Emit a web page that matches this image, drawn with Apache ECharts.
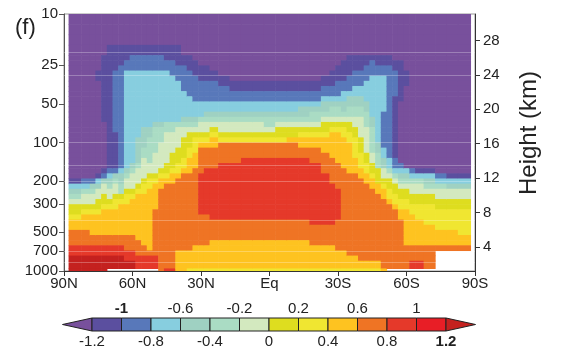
<!DOCTYPE html>
<html><head><meta charset="utf-8">
<script src="https://cdn.jsdelivr.net/npm/echarts@6/dist/echarts.min.js"></script>
<style>html,body{margin:0;padding:0;background:#fff}#c{width:563px;height:358px}</style>
</head><body><div id="c"></div>
<script>
// ---------- data ----------
// latitude columns (cell centres, 90N -> 90S) and the latitudes the plotted data cover
const latCenters = [85,80,77.5,75,72.5,70,67.5,65,62.5,60,57.5,55,52.5,50,47.5,45,42.5,40,37.5,35,32.5,30,27.5,25,20,15,10,5,0,-5,-10,-15,-20,-25,-27.5,-30,-32.5,-35,-37.5,-40,-42.5,-45,-47.5,-50,-52.5,-55,-57.5,-60,-62.5,-65,-70,-75,-80,-85];
const latCoverage = [88, -88];
// pressure layer boundaries (hPa), top -> bottom
const pressureEdges = [10,12.02,14.45,17.38,20.89,22.91,25.12,27.54,30.2,33.11,36.31,39.81,43.65,47.86,52.48,57.54,63.1,69.18,75.86,83.18,91.2,100,109.6,120.2,131.8,144.5,158.5,173.8,190.5,208.9,229.1,251.2,275.4,302,331.1,363.1,398.1,436.5,478.6,524.8,575.4,631,691.8,758.6,831.8,955,1000];
// temperature change, one vertical profile per latitude column (values top -> bottom); null = no data
const profiles = [
[-1.3,-1.3,-1.3,-1.3,-1.3,-1.3,-1.3,-1.3,-1.3,-1.3, -1.3,-1.3,-1.3,-1.3,-1.3,-1.3,-1.3,-1.3,-1.3,-1.3, -1.3,-1.3,-1.3,-1.3,-1.3,-1.3,-1.3,-1.3,-1.1,-0.7, -0.5,-0.3,-0.1,0.1,0.1,0.3,0.5,0.5,0.7,0.7, 0.7,0.9,0.9,1.3,1.3,1.3],
[-1.3,-1.3,-1.3,-1.3,-1.3,-1.3,-1.3,-1.3,-1.3,-1.3, -1.3,-1.3,-1.3,-1.3,-1.3,-1.3,-1.3,-1.3,-1.3,-1.3, -1.3,-1.3,-1.3,-1.3,-1.3,-1.3,-1.3,-1.3,-0.9,-0.7, -0.3,-0.1,-0.1,0.1,0.3,0.5,0.5,0.5,0.7,0.7, 0.7,0.9,0.9,1.3,1.3,1.3],
[-1.3,-1.3,-1.3,-1.3,-1.3,-1.3,-1.3,-1.3,-1.3,-1.3, -1.3,-1.3,-1.3,-1.3,-1.3,-1.3,-1.3,-1.3,-1.3,-1.3, -1.3,-1.3,-1.3,-1.3,-1.3,-1.3,-1.3,-1.3,-0.9,-0.5, -0.3,-0.1,-0.1,0.1,0.3,0.5,0.5,0.5,0.5,0.7, 0.7,0.9,0.9,1.3,1.3,1.3],
[-1.3,-1.3,-1.3,-1.3,-1.3,-1.3,-1.3,-1.1,-1.1,-1.3, -1.3,-1.3,-1.3,-1.3,-1.3,-1.3,-1.3,-1.3,-1.3,-1.3, -1.3,-1.3,-1.3,-1.3,-1.3,-1.3,-1.3,-1.1,-0.7,-0.5, -0.1,-0.1,0.1,0.1,0.3,0.5,0.5,0.5,0.5,0.7, 0.7,0.9,0.9,1.3,1.3,1.3],
[-1.3,-1.3,-1.3,-1.3,-1.1,-1.1,-1.1,-1.1,-1.1,-1.1, -1.1,-1.1,-1.1,-1.1,-1.1,-1.1,-1.1,-1.3,-1.3,-1.3, -1.3,-1.3,-1.3,-1.3,-1.3,-1.3,-1.1,-0.9,-0.5,-0.1, -0.1,0.1,0.1,0.3,0.5,0.5,0.5,0.5,0.5,0.7, 0.7,0.9,0.9,1.3,1.3,1.3],
[-1.3,-1.3,-1.3,-1.1,-1.1,-1.1,-1.1,-1.1,-1.1,-1.1, -1.1,-1.1,-1.1,-1.1,-1.1,-1.1,-1.1,-1.1,-1.1,-1.1, -1.1,-1.1,-1.1,-1.1,-1.1,-1.1,-0.9,-0.7,-0.5,-0.3, -0.1,-0.1,0.1,0.3,0.5,0.5,0.5,0.5,0.5,0.7, 0.7,0.9,0.9,1.3,1.3,null],
[-1.3,-1.3,-1.3,-1.1,-1.1,-1.1,-1.1,-0.9,-0.9,-0.9, -0.9,-0.9,-0.9,-0.9,-0.9,-0.9,-0.9,-0.9,-0.9,-1.1, -1.1,-1.1,-1.1,-1.1,-1.1,-1.1,-0.9,-0.5,-0.3,-0.1, -0.1,0.1,0.3,0.3,0.5,0.5,0.5,0.5,0.5,0.7, 0.7,0.9,0.9,1.3,1.3,null],
[-1.3,-1.3,-1.3,-1.1,-1.1,-1.1,-0.9,-0.9,-0.9,-0.9, -0.9,-0.9,-0.9,-0.9,-0.9,-0.9,-0.9,-0.9,-0.9,-0.9, -0.9,-0.9,-0.9,-0.9,-0.9,-0.9,-0.7,-0.5,-0.5,-0.3, -0.3,0.1,0.3,0.5,0.5,0.5,0.5,0.5,0.5,0.7, 0.7,0.9,0.9,1.3,1.3,null],
[-1.3,-1.3,-1.3,-1.1,-1.1,-0.9,-0.9,-0.7,-0.7,-0.7, -0.7,-0.7,-0.7,-0.7,-0.7,-0.7,-0.7,-0.7,-0.7,-0.7, -0.7,-0.7,-0.7,-0.7,-0.7,-0.7,-0.5,-0.3,-0.1,-0.1, 0.1,0.3,0.3,0.5,0.5,0.5,0.5,0.5,0.5,0.7, 0.7,0.7,0.9,0.9,1.3,null],
[-1.3,-1.3,-1.3,-1.1,-0.9,-0.9,-0.9,-0.7,-0.7,-0.7, -0.7,-0.7,-0.7,-0.7,-0.7,-0.7,-0.7,-0.7,-0.7,-0.7, -0.7,-0.7,-0.7,-0.7,-0.7,-0.5,-0.3,-0.1,-0.1,-0.1, 0.1,0.3,0.5,0.5,0.5,0.5,0.5,0.5,0.5,0.7, 0.7,0.7,0.9,0.9,1.3,null],
[-1.3,-1.3,-1.3,-1.1,-0.9,-0.9,-0.9,-0.7,-0.7,-0.7, -0.7,-0.7,-0.7,-0.7,-0.7,-0.7,-0.7,-0.7,-0.7,-0.7, -0.5,-0.5,-0.5,-0.5,-0.5,-0.3,-0.1,-0.1,-0.1,0.1, 0.3,0.5,0.5,0.5,0.5,0.5,0.5,0.5,0.5,0.5, 0.7,0.7,0.7,0.9,0.9,null],
[-1.3,-1.3,-1.3,-1.1,-0.9,-0.9,-0.9,-0.7,-0.7,-0.7, -0.7,-0.7,-0.7,-0.7,-0.7,-0.7,-0.7,-0.7,-0.5,-0.5, -0.5,-0.5,-0.3,-0.3,-0.1,-0.1,-0.1,-0.1,0.1,0.3, 0.3,0.5,0.5,0.5,0.5,0.5,0.5,0.5,0.5,0.5, 0.5,0.7,0.7,0.9,0.9,null],
[-1.3,-1.3,-1.3,-1.1,-0.9,-0.9,-0.9,-0.7,-0.7,-0.7, -0.7,-0.7,-0.7,-0.7,-0.7,-0.7,-0.7,-0.7,-0.5,-0.5, -0.3,-0.3,-0.3,-0.3,-0.3,-0.1,-0.1,0.1,0.3,0.3, 0.5,0.5,0.5,0.5,0.5,0.5,0.5,0.5,0.5,0.5, 0.5,0.5,0.7,0.9,0.9,null],
[-1.3,-1.3,-1.3,-1.1,-0.9,-0.9,-0.9,-0.7,-0.7,-0.7, -0.7,-0.7,-0.7,-0.7,-0.7,-0.7,-0.7,-0.5,-0.3,-0.3, -0.3,-0.3,-0.3,-0.1,-0.1,-0.1,-0.1,0.1,0.3,0.5, 0.5,0.5,0.5,0.5,0.7,0.7,0.7,0.7,0.7,0.7, 0.7,0.7,0.7,0.9,0.9,null],
[-1.3,-1.3,-1.3,-1.1,-0.9,-0.9,-0.9,-0.7,-0.7,-0.7, -0.7,-0.7,-0.7,-0.7,-0.7,-0.7,-0.7,-0.5,-0.3,-0.3, -0.3,-0.1,-0.1,-0.1,-0.1,-0.1,0.1,0.3,0.5,0.5, 0.7,0.7,0.7,0.7,0.7,0.7,0.7,0.7,0.7,0.7, 0.7,0.7,0.7,0.7,0.7,0.7],
[-1.3,-1.3,-1.3,-1.1,-1.1,-0.9,-0.9,-0.7,-0.7,-0.7, -0.7,-0.7,-0.7,-0.7,-0.7,-0.7,-0.7,-0.3,-0.3,-0.1, -0.1,-0.1,-0.1,-0.1,-0.1,0.1,0.1,0.3,0.5,0.7, 0.7,0.7,0.7,0.7,0.7,0.7,0.7,0.7,0.7,0.7, 0.7,0.7,0.7,0.7,0.7,0.9],
[-1.3,-1.3,-1.3,-1.1,-1.1,-0.9,-0.9,-0.9,-0.7,-0.7, -0.7,-0.7,-0.7,-0.7,-0.7,-0.7,-0.7,-0.3,-0.3,-0.1, -0.1,-0.1,-0.1,0.1,0.1,0.1,0.3,0.5,0.5,0.7, 0.7,0.7,0.7,0.7,0.7,0.7,0.7,0.7,0.7,0.7, 0.7,0.7,0.7,0.7,0.7,0.9],
[-1.3,-1.3,-1.3,-1.1,-1.1,-1.1,-0.9,-0.9,-0.9,-0.7, -0.7,-0.7,-0.7,-0.7,-0.7,-0.7,-0.7,-0.3,-0.1,-0.1, -0.1,-0.1,0.1,0.1,0.1,0.3,0.3,0.5,0.7,0.7, 0.7,0.7,0.7,0.7,0.7,0.7,0.7,0.7,0.7,0.7, 0.7,0.7,0.5,0.5,0.5,0.5],
[-1.3,-1.3,-1.3,-1.3,-1.1,-1.1,-0.9,-0.9,-0.9,-0.9, -0.9,-0.7,-0.7,-0.7,-0.7,-0.7,-0.5,-0.3,-0.1,-0.1, 0.1,0.1,0.1,0.1,0.3,0.3,0.5,0.7,0.7,0.7, 0.7,0.7,0.7,0.7,0.7,0.7,0.7,0.7,0.7,0.7, 0.7,0.7,0.5,0.5,0.5,0.5],
[-1.3,-1.3,-1.3,-1.3,-1.1,-1.1,-1.1,-0.9,-0.9,-0.9, -0.9,-0.9,-0.7,-0.7,-0.7,-0.7,-0.5,-0.3,-0.1,0.1, 0.1,0.1,0.3,0.3,0.5,0.5,0.5,0.7,0.7,0.7, 0.7,0.7,0.7,0.7,0.7,0.7,0.7,0.7,0.7,0.7, 0.7,0.7,0.5,0.5,0.5,0.3],
[-1.3,-1.3,-1.3,-1.3,-1.3,-1.1,-1.1,-1.1,-0.9,-0.9, -0.9,-0.9,-0.9,-0.7,-0.7,-0.7,-0.5,-0.3,-0.1,0.1, 0.3,0.3,0.3,0.5,0.5,0.5,0.7,0.7,0.7,0.7, 0.7,0.7,0.7,0.7,0.7,0.7,0.7,0.7,0.7,0.7, 0.7,0.5,0.5,0.5,0.5,0.3],
[-1.3,-1.3,-1.3,-1.3,-1.3,-1.3,-1.1,-1.1,-1.1,-0.9, -0.9,-0.9,-0.9,-0.7,-0.7,-0.7,-0.3,-0.1,-0.1,0.1, 0.3,0.5,0.7,0.7,0.7,0.7,0.7,0.9,0.9,0.9, 0.9,0.9,0.9,0.9,0.9,0.7,0.7,0.7,0.7,0.7, 0.7,0.5,0.5,0.5,0.5,0.3],
[-1.3,-1.3,-1.3,-1.3,-1.3,-1.3,-1.1,-1.1,-1.1,-0.9, -0.9,-0.9,-0.9,-0.7,-0.7,-0.5,-0.3,-0.1,-0.1,0.1, 0.3,0.5,0.7,0.7,0.7,0.7,0.9,0.9,0.9,0.9, 0.9,0.9,0.9,0.9,0.9,0.7,0.7,0.7,0.7,0.7, 0.7,0.5,0.5,0.5,0.5,0.3],
[-1.3,-1.3,-1.3,-1.3,-1.3,-1.3,-1.3,-1.1,-1.1,-0.9, -0.9,-0.9,-0.9,-0.7,-0.7,-0.5,-0.3,-0.1,0.1,0.3, 0.5,0.5,0.7,0.7,0.7,0.7,0.9,0.9,0.9,0.9, 0.9,0.9,0.9,0.9,0.9,0.9,0.7,0.7,0.7,0.7, 0.5,0.5,0.5,0.5,0.5,0.3],
[-1.3,-1.3,-1.3,-1.3,-1.3,-1.3,-1.3,-1.3,-1.1,-1.1, -0.9,-0.9,-0.9,-0.7,-0.7,-0.5,-0.3,-0.1,-0.1,0.1, 0.3,0.7,0.7,0.7,0.7,0.9,0.9,0.9,0.9,0.9, 0.9,0.9,0.9,0.9,0.9,0.9,0.7,0.7,0.7,0.7, 0.5,0.5,0.5,0.5,0.5,0.3],
[-1.3,-1.3,-1.3,-1.3,-1.3,-1.3,-1.3,-1.3,-1.3,-1.1, -1.1,-0.9,-0.9,-0.7,-0.7,-0.5,-0.3,-0.1,-0.1,0.1, 0.3,0.7,0.7,0.7,0.7,0.9,0.9,0.9,0.9,0.9, 0.9,0.9,0.9,0.9,0.9,0.9,0.7,0.7,0.7,0.7, 0.5,0.5,0.5,0.5,0.5,0.3],
[-1.3,-1.3,-1.3,-1.3,-1.3,-1.3,-1.3,-1.3,-1.3,-1.1, -1.1,-0.9,-0.9,-0.7,-0.7,-0.5,-0.3,-0.1,-0.1,0.1, 0.3,0.7,0.7,0.7,0.9,0.9,0.9,0.9,0.9,0.9, 0.9,0.9,0.9,0.9,0.9,0.9,0.7,0.7,0.7,0.7, 0.5,0.5,0.5,0.5,0.5,0.3],
[-1.3,-1.3,-1.3,-1.3,-1.3,-1.3,-1.3,-1.3,-1.3,-1.1, -1.1,-0.9,-0.9,-0.7,-0.7,-0.5,-0.3,-0.1,-0.1,0.1, 0.3,0.7,0.7,0.7,0.9,0.9,0.9,0.9,0.9,0.9, 0.9,0.9,0.9,0.9,0.9,0.9,0.7,0.7,0.7,0.7, 0.5,0.5,0.5,0.5,0.5,0.3],
[-1.3,-1.3,-1.3,-1.3,-1.3,-1.3,-1.3,-1.3,-1.3,-1.1, -1.1,-0.9,-0.9,-0.7,-0.7,-0.5,-0.3,-0.3,-0.1,0.1, 0.3,0.7,0.7,0.7,0.9,0.9,0.9,0.9,0.9,0.9, 0.9,0.9,0.9,0.9,0.9,0.9,0.7,0.7,0.7,0.7, 0.5,0.5,0.5,0.5,0.5,0.3],
[-1.3,-1.3,-1.3,-1.3,-1.3,-1.3,-1.3,-1.3,-1.3,-1.1, -1.1,-0.9,-0.9,-0.7,-0.7,-0.5,-0.3,-0.1,0.1,0.1, 0.3,0.7,0.7,0.7,0.9,0.9,0.9,0.9,0.9,0.9, 0.9,0.9,0.9,0.9,0.9,0.9,0.7,0.7,0.7,0.7, 0.5,0.5,0.5,0.5,0.5,0.3],
[-1.3,-1.3,-1.3,-1.3,-1.3,-1.3,-1.3,-1.3,-1.3,-1.1, -1.1,-0.9,-0.9,-0.7,-0.7,-0.5,-0.3,-0.1,0.1,0.1, 0.5,0.7,0.7,0.7,0.9,0.9,0.9,0.9,0.9,0.9, 0.9,0.9,0.9,0.9,0.9,0.9,0.7,0.7,0.7,0.7, 0.5,0.5,0.5,0.5,0.5,0.3],
[-1.3,-1.3,-1.3,-1.3,-1.3,-1.3,-1.3,-1.3,-1.3,-1.1, -1.1,-0.9,-0.9,-0.7,-0.5,-0.5,-0.3,-0.1,0.1,0.3, 0.5,0.5,0.7,0.7,0.9,0.9,0.9,0.9,0.9,0.9, 0.9,0.9,0.9,0.9,0.9,0.9,0.7,0.7,0.7,0.7, 0.5,0.5,0.5,0.5,0.5,0.3],
[-1.3,-1.3,-1.3,-1.3,-1.3,-1.3,-1.3,-1.3,-1.3,-1.1, -1.1,-0.9,-0.9,-0.7,-0.5,-0.3,-0.3,-0.1,0.1,0.3, 0.5,0.5,0.7,0.7,0.7,0.9,0.9,0.9,0.9,0.9, 0.9,0.9,0.9,0.9,0.9,0.9,0.9,0.7,0.7,0.7, 0.7,0.5,0.5,0.5,0.5,0.3],
[-1.3,-1.3,-1.3,-1.3,-1.3,-1.3,-1.3,-1.3,-1.1,-1.1, -0.9,-0.9,-0.7,-0.5,-0.5,-0.3,-0.1,0.1,0.1,0.3, 0.5,0.5,0.5,0.7,0.7,0.7,0.7,0.9,0.9,0.9, 0.9,0.9,0.9,0.9,0.9,0.9,0.9,0.7,0.7,0.7, 0.7,0.5,0.5,0.5,0.5,0.3],
[-1.3,-1.3,-1.3,-1.3,-1.3,-1.3,-1.3,-1.1,-1.1,-1.1, -0.9,-0.9,-0.7,-0.5,-0.3,-0.3,-0.1,0.1,0.3,0.5, 0.5,0.5,0.5,0.5,0.7,0.7,0.7,0.7,0.7,0.9, 0.9,0.9,0.9,0.9,0.9,0.9,0.9,0.7,0.7,0.7, 0.7,0.5,0.5,0.5,0.5,0.3],
[-1.3,-1.3,-1.3,-1.3,-1.3,-1.3,-1.1,-1.1,-1.1,-0.9, -0.9,-0.9,-0.7,-0.5,-0.3,-0.3,-0.1,0.1,0.3,0.5, 0.5,0.5,0.5,0.5,0.5,0.7,0.7,0.7,0.7,0.7, 0.9,0.9,0.9,0.9,0.9,0.9,0.7,0.7,0.7,0.7, 0.7,0.7,0.5,0.5,0.5,0.3],
[-1.3,-1.3,-1.3,-1.3,-1.3,-1.1,-1.1,-1.1,-1.1,-0.9, -0.9,-0.7,-0.7,-0.5,-0.5,-0.3,-0.1,0.1,0.3,0.3, 0.5,0.5,0.5,0.5,0.5,0.5,0.7,0.7,0.7,0.7, 0.7,0.7,0.7,0.7,0.7,0.7,0.7,0.7,0.7,0.7, 0.7,0.7,0.5,0.5,0.5,0.3],
[-1.3,-1.3,-1.3,-1.3,-1.1,-1.1,-1.1,-1.1,-0.9,-0.9, -0.9,-0.7,-0.5,-0.5,-0.3,-0.3,-0.1,0.1,0.1,0.3, 0.3,0.5,0.5,0.5,0.5,0.5,0.5,0.7,0.7,0.7, 0.7,0.7,0.7,0.7,0.7,0.7,0.7,0.7,0.7,0.7, 0.7,0.7,0.7,0.5,0.5,0.3],
[-1.3,-1.3,-1.3,-1.3,-1.1,-1.1,-1.1,-0.9,-0.9,-0.9, -0.7,-0.7,-0.5,-0.5,-0.3,-0.3,-0.1,-0.1,0.1,0.1, 0.3,0.3,0.3,0.3,0.5,0.5,0.5,0.7,0.7,0.7, 0.7,0.7,0.7,0.7,0.7,0.7,0.7,0.7,0.7,0.7, 0.7,0.7,0.7,0.5,0.5,0.3],
[-1.3,-1.3,-1.3,-1.3,-1.1,-1.1,-1.1,-0.9,-0.9,-0.9, -0.7,-0.7,-0.5,-0.5,-0.3,-0.3,-0.1,-0.1,-0.1,-0.1, 0.1,0.1,0.1,0.3,0.3,0.3,0.5,0.5,0.7,0.7, 0.7,0.7,0.7,0.7,0.7,0.7,0.7,0.7,0.7,0.7, 0.7,0.7,0.7,0.7,0.5,0.3],
[-1.3,-1.3,-1.3,-1.3,-1.1,-1.1,-0.9,-0.9,-0.9,-0.7, -0.7,-0.7,-0.7,-0.5,-0.5,-0.3,-0.3,-0.3,-0.1,-0.1, -0.1,-0.1,-0.1,0.1,0.1,0.3,0.3,0.5,0.5,0.7, 0.7,0.7,0.7,0.7,0.7,0.7,0.7,0.7,0.7,0.7, 0.7,0.7,0.7,0.7,0.5,0.3],
[-1.3,-1.3,-1.3,-1.3,-1.1,-0.9,-0.9,-0.9,-0.7,-0.7, -0.7,-0.7,-0.7,-0.7,-0.7,-0.7,-0.5,-0.5,-0.3,-0.3, -0.3,-0.3,-0.3,-0.1,-0.1,0.1,0.1,0.3,0.5,0.5, 0.7,0.7,0.7,0.7,0.7,0.7,0.7,0.7,0.7,0.7, 0.7,0.7,0.7,0.7,0.5,0.3],
[-1.3,-1.3,-1.3,-1.3,-1.1,-1.1,-0.9,-0.9,-0.7,-0.7, -0.7,-0.7,-0.7,-0.7,-0.7,-0.7,-0.7,-0.7,-0.7,-0.7, -0.7,-0.5,-0.5,-0.3,-0.3,-0.3,0.1,0.1,0.1,0.5, 0.5,0.7,0.7,0.7,0.7,0.7,0.7,0.7,0.7,0.7, 0.7,0.7,0.7,0.7,0.5,0.3],
[-1.3,-1.3,-1.3,-1.3,-1.1,-1.1,-0.9,-0.9,-0.7,-0.7, -0.7,-0.7,-0.7,-0.7,-0.7,-0.9,-0.9,-0.9,-0.9,-0.9, -0.9,-0.9,-0.7,-0.7,-0.5,-0.5,-0.1,-0.1,0.1,0.3, 0.5,0.5,0.7,0.7,0.7,0.7,0.7,0.7,0.7,0.7, 0.7,0.7,0.7,0.7,0.7,0.5],
[-1.3,-1.3,-1.3,-1.3,-1.1,-1.1,-0.9,-0.9,-0.9,-0.9, -0.9,-0.9,-0.9,-0.9,-0.9,-0.9,-0.9,-0.9,-0.9,-0.9, -0.9,-0.9,-0.9,-0.9,-0.7,-0.7,-0.3,-0.1,0.1,0.1, 0.3,0.3,0.5,0.7,0.7,0.7,0.7,0.7,0.7,0.7, 0.7,0.7,0.7,0.7,0.7,null],
[-1.3,-1.3,-1.3,-1.3,-1.3,-1.1,-1.1,-0.9,-0.9,-0.9, -0.9,-0.9,-1.1,-1.1,-1.1,-1.1,-1.1,-1.1,-1.1,-1.1, -1.1,-1.1,-1.1,-1.1,-0.9,-0.9,-0.7,-0.3,-0.1,0.1, 0.1,0.3,0.3,0.5,0.7,0.7,0.7,0.7,0.7,0.7, 0.7,0.7,0.7,0.7,0.7,null],
[-1.3,-1.3,-1.3,-1.3,-1.3,-1.1,-1.1,-1.1,-1.1,-1.1, -1.1,-1.1,-1.1,-1.3,-1.3,-1.3,-1.3,-1.3,-1.3,-1.3, -1.3,-1.3,-1.3,-1.3,-1.3,-0.9,-0.7,-0.5,-0.3,-0.1, 0.1,0.1,0.3,0.3,0.5,0.5,0.7,0.7,0.7,0.7, 0.7,0.7,0.7,0.7,0.7,null],
[-1.3,-1.3,-1.3,-1.3,-1.3,-1.3,-1.3,-1.1,-1.1,-1.1, -1.3,-1.3,-1.3,-1.3,-1.3,-1.3,-1.3,-1.3,-1.3,-1.3, -1.3,-1.3,-1.3,-1.3,-1.3,-1.3,-0.7,-0.5,-0.3,-0.1, 0.1,0.1,0.3,0.3,0.5,0.5,0.5,0.5,0.5,0.5, 0.5,0.7,0.7,0.7,0.7,null],
[-1.3,-1.3,-1.3,-1.3,-1.3,-1.3,-1.3,-1.3,-1.3,-1.3, -1.3,-1.3,-1.3,-1.3,-1.3,-1.3,-1.3,-1.3,-1.3,-1.3, -1.3,-1.3,-1.3,-1.3,-1.3,-1.3,-0.9,-0.7,-0.3,-0.1, -0.1,0.1,0.1,0.3,0.3,0.5,0.5,0.5,0.5,0.5, 0.5,0.7,0.7,0.7,0.9,null],
[-1.3,-1.3,-1.3,-1.3,-1.3,-1.3,-1.3,-1.3,-1.3,-1.3, -1.3,-1.3,-1.3,-1.3,-1.3,-1.3,-1.3,-1.3,-1.3,-1.3, -1.3,-1.3,-1.3,-1.3,-1.3,-1.3,-1.1,-0.7,-0.3,-0.1, -0.1,0.1,0.1,0.3,0.3,0.3,0.5,0.5,0.5,0.5, 0.5,0.7,0.7,0.7,0.9,null],
[-1.3,-1.3,-1.3,-1.3,-1.3,-1.3,-1.3,-1.3,-1.3,-1.3, -1.3,-1.3,-1.3,-1.3,-1.3,-1.3,-1.3,-1.3,-1.3,-1.3, -1.3,-1.3,-1.3,-1.3,-1.3,-1.3,-1.1,-0.7,-0.5,-0.3, -0.1,0.1,0.1,0.3,0.3,0.3,0.3,0.5,0.5,0.5, 0.5,0.7,0.7,0.7,0.7,null],
[-1.3,-1.3,-1.3,-1.3,-1.3,-1.3,-1.3,-1.3,-1.3,-1.3, -1.3,-1.3,-1.3,-1.3,-1.3,-1.3,-1.3,-1.3,-1.3,-1.3, -1.3,-1.3,-1.3,-1.3,-1.3,-1.3,-1.3,-0.9,-0.7,-0.3, -0.1,-0.1,0.1,0.1,0.3,0.3,0.3,0.3,0.5,0.5, 0.5,0.7,null,null,null,null],
[-1.3,-1.3,-1.3,-1.3,-1.3,-1.3,-1.3,-1.3,-1.3,-1.3, -1.3,-1.3,-1.3,-1.3,-1.3,-1.3,-1.3,-1.3,-1.3,-1.3, -1.3,-1.3,-1.3,-1.3,-1.3,-1.3,-1.3,-1.1,-0.7,-0.5, -0.1,-0.1,0.1,0.1,0.3,0.3,0.3,0.3,0.5,0.5, 0.5,0.7,null,null,null,null],
[-1.3,-1.3,-1.3,-1.3,-1.3,-1.3,-1.3,-1.3,-1.3,-1.3, -1.3,-1.3,-1.3,-1.3,-1.3,-1.3,-1.3,-1.3,-1.3,-1.3, -1.3,-1.3,-1.3,-1.3,-1.3,-1.3,-1.3,-1.1,-0.7,-0.5, -0.1,-0.1,0.1,0.1,0.3,0.3,0.3,0.3,0.3,0.5, 0.5,0.7,null,null,null,null]
];
const levels = [-1.2,-1,-0.8,-0.6,-0.4,-0.2,0,0.2,0.4,0.6,0.8,1,1.2];
const levelColors = ['#78509c','#5b4f9f','#5878ba','#87cedf','#9fd1c2','#aadcc4','#d3e9bf','#dedd1f','#f0e631','#fec320','#ef7424','#e5392a','#e81e26','#c4211f'];
const colorbarEnds = [-1.4, 1.4];
const pressureTicks = [10,25,50,100,200,300,500,700,1000];
const heightTicks = [4,8,12,16,20,24,28];
const heightExtent = [1.2, 31.07];
const faintLevels = [20,30,100,150,200,400,700,850];
const cbTopLabels = [-1,-0.6,-0.2,0.2,0.6,1];
const cbBottomLabels = [-1.2,-0.8,-0.4,0,0.4,0.8,1.2];

// ---------- build ----------
const FONT = '"Liberation Sans", Arial, sans-serif';
const TXT = '#222';
const cells = [];
profiles.forEach((col, j) => {
  if (col.length !== pressureEdges.length - 1) console.warn('profile length mismatch', j, col.length);
  const a = j === 0 ? latCoverage[0] : (latCenters[j] + latCenters[j - 1]) / 2;
  const b = j === latCenters.length - 1 ? latCoverage[1] : (latCenters[j] + latCenters[j + 1]) / 2;
  col.forEach((v, i) => {
    if (v === null || v === undefined || i >= pressureEdges.length - 1) return;
    cells.push([a, b, Math.log10(pressureEdges[i]), Math.log10(pressureEdges[i + 1]), v]);
  });
});
const pieces = levelColors.map((c, i) => {
  if (i === 0) return { lt: levels[0], color: c };
  if (i === levelColors.length - 1) return { gte: levels[levels.length - 1], color: c };
  return { gte: levels[i - 1], lt: levels[i], color: c };
});
const bins = levelColors.map((c, i) => {
  const lo = i === 0 ? colorbarEnds[0] : levels[i - 1];
  const hi = i === levelColors.length - 1 ? colorbarEnds[1] : levels[i];
  return [lo, hi, i];
});
const lg = v => Math.log10(v);
const latLabel = v => v === 0 ? 'Eq' : (v > 0 ? v + 'N' : (-v) + 'S');
const fmtNum = v => String(Math.round(v * 10) / 10);

function renderCell(params, api) {
  const a = api.coord([api.value(0), api.value(2)]);
  const b = api.coord([api.value(1), api.value(3)]);
  return {
    type: 'rect',
    shape: { x: Math.min(a[0], b[0]), y: Math.min(a[1], b[1]),
             width: Math.abs(b[0] - a[0]) + 0.6, height: Math.abs(b[1] - a[1]) + 0.6 },
    style: { fill: api.visual('color') }
  };
}
function renderBin(params, api) {
  const x0 = api.coord([api.value(0), 0])[0];
  const x1 = api.coord([api.value(1), 0])[0];
  const cs = params.coordSys;
  const top = cs.y, h = cs.height, mid = top + h / 2;
  const idx = api.value(2);
  const style = { fill: levelColors[idx], stroke: '#222', lineWidth: 1 };
  if (idx === 0) return { type: 'polygon', shape: { points: [[x1, top], [x1, top + h], [x0, mid]] }, style };
  if (idx === levelColors.length - 1) return { type: 'polygon', shape: { points: [[x0, top], [x0, top + h], [x1, mid]] }, style };
  return { type: 'rect', shape: { x: x0, y: top, width: x1 - x0, height: h }, style };
}

const labelBase = { fontSize: 15, color: TXT, fontFamily: FONT };
const chart = echarts.init(document.getElementById('c'), null, { renderer: 'canvas' });
chart.setOption({
  animation: false,
  backgroundColor: '#fff',
  grid: [
    { left: 64, right: 88, top: 14, bottom: 87, show: true, borderColor: '#999', borderWidth: 1, backgroundColor: 'transparent' },
    { left: 92, width: 354, top: 318, height: 13 }
  ],
  xAxis: [
    { gridIndex: 0, type: 'value', min: -90, max: 90, interval: 30, inverse: true, position: 'bottom',
      axisLine: { show: true, onZero: false, lineStyle: { color: '#333' } },
      axisTick: { show: true, length: 5, lineStyle: { color: '#333' } },
      axisLabel: Object.assign({ margin: 5, formatter: latLabel }, labelBase),
      splitLine: { show: false } },
    { gridIndex: 1, type: 'value', min: levels[0], max: levels[levels.length - 1], position: 'bottom',
      axisLine: { show: false }, axisTick: { show: false }, splitLine: { show: false },
      axisLabel: Object.assign({ margin: 3, customValues: cbBottomLabels,
        formatter: v => fmtNum(v) === '1.2' ? '{b|1.2}' : fmtNum(v),
        rich: { b: { fontWeight: 'bold', fontSize: 15, fontFamily: FONT, color: TXT } } }, labelBase) },
    { gridIndex: 1, type: 'value', min: levels[0], max: levels[levels.length - 1], position: 'top',
      axisLine: { show: false }, axisTick: { show: false }, splitLine: { show: false },
      axisLabel: Object.assign({ margin: 2, customValues: cbTopLabels,
        formatter: v => fmtNum(v) === '-1' ? '{b|-1}' : fmtNum(v),
        rich: { b: { fontWeight: 'bold', fontSize: 15, fontFamily: FONT, color: TXT } } }, labelBase) }
  ],
  yAxis: [
    { gridIndex: 0, type: 'value', min: lg(10), max: lg(1000), inverse: true, position: 'left',
      axisLine: { show: true, onZero: false, lineStyle: { color: '#555' } },
      axisTick: { show: true, length: 5, customValues: pressureTicks.map(lg), lineStyle: { color: '#555' } },
      axisLabel: Object.assign({ margin: 6, customValues: pressureTicks.map(lg),
        formatter: v => String(Math.round(Math.pow(10, v))) }, labelBase),
      splitLine: { show: false } },
    { gridIndex: 0, type: 'value', min: heightExtent[0], max: heightExtent[1], position: 'right',
      axisLine: { show: true, onZero: false, lineStyle: { color: '#333' } },
      axisTick: { show: true, length: 5, customValues: heightTicks, lineStyle: { color: '#333' } },
      axisLabel: Object.assign({ margin: 8, customValues: heightTicks }, labelBase),
      splitLine: { show: false } },
    { gridIndex: 0, type: 'value', min: lg(10), max: lg(1000), inverse: true, position: 'left', z: 5,
      axisLine: { show: false }, axisLabel: { show: false },
      axisTick: { show: false, customValues: faintLevels.map(lg) },
      splitLine: { show: true, lineStyle: { color: 'rgba(255,255,255,0.28)', width: 1 } } },
    { gridIndex: 1, type: 'value', min: 0, max: 1, show: false }
  ],
  visualMap: [{ type: 'piecewise', show: false, seriesIndex: 0, dimension: 4, pieces: pieces }],
  series: [
    { type: 'custom', name: 'temperature change', xAxisIndex: 0, yAxisIndex: 0, renderItem: renderCell,
      data: cells, encode: { x: [0, 1], y: [2, 3] }, clip: true, silent: true, z: 2 },
    { type: 'custom', name: 'colorbar', xAxisIndex: 1, yAxisIndex: 3, renderItem: renderBin,
      data: bins, encode: { x: [0, 1] }, clip: false, silent: true, z: 2 }
  ],
  graphic: [
    { type: 'text', left: 15, top: 17, style: { text: '(f)', font: '22px ' + FONT, fill: TXT } },
    { type: 'text', x: 529, y: 133, rotation: Math.PI / 2,
      style: { text: 'Height (km)', font: '24px ' + FONT, fill: TXT, align: 'center', verticalAlign: 'middle' } }
  ]
});
</script></body></html>
